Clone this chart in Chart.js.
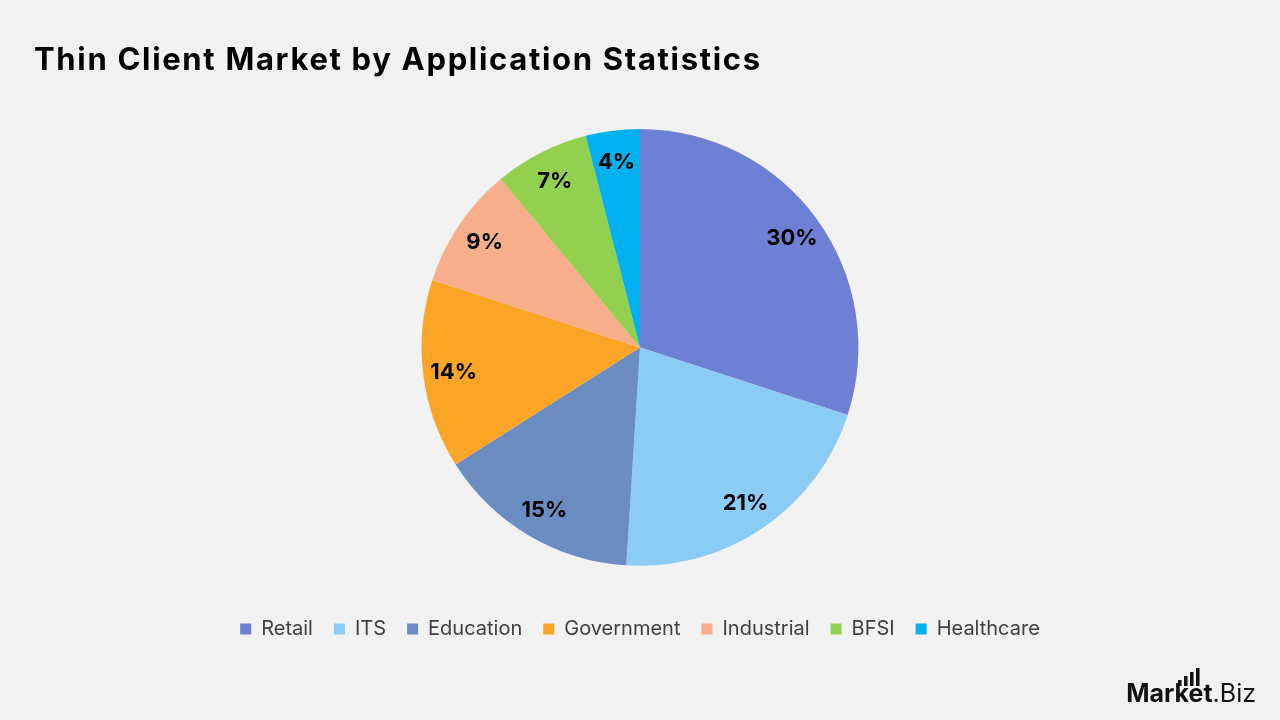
<!DOCTYPE html>
<html>
<head>
<meta charset="utf-8">
<script src="https://cdn.jsdelivr.net/npm/chart.js@4"></script>
<style>
html,body{margin:0;padding:0;background:#F2F2F2;}
#wrap{width:1280px;height:720px;position:relative;}
</style>
</head>
<body>
<div id="wrap"><canvas id="c" width="1280" height="720"></canvas></div>
<script>
const categories = ["Retail","ITS","Education","Government","Industrial","BFSI","Healthcare"];
const shares = [30,21,15,14,9,7,4];
const colors = ["#6E80D3","#8ACCF5","#6C8DC2","#FBA526","#F9AE8B","#92D050","#00B0F0"];
const titleText = "Thin Client Market by Application Statistics";

const FONT = "Inter, 'Open Sans', sans-serif";

const sliceLabels = {
  id:'sliceLabels',
  afterDatasetsDraw(chart){
    const ctx = chart.ctx;
    const meta = chart.getDatasetMeta(0);
    ctx.save();
    ctx.font = "bold 22px " + FONT;
    ctx.fillStyle = "#000";
    ctx.textAlign = "center";
    ctx.textBaseline = "middle";
    meta.data.forEach((arc,i)=>{
      const p = arc.getProps(['x','y','startAngle','endAngle','outerRadius'],true);
      const mid = (p.startAngle+p.endAngle)/2;
      const r = p.outerRadius*0.86;
      ctx.fillText(shares[i]+"%", p.x+Math.cos(mid)*r, p.y+Math.sin(mid)*r+1);
    });
    ctx.restore();
  }
};

const decor = {
  id:'decor',
  beforeDraw(chart){
    const ctx = chart.ctx;
    ctx.save();
    ctx.fillStyle="#F2F2F2";
    ctx.fillRect(0,0,chart.width,chart.height);
    ctx.restore();
  },
  afterDraw(chart){
    const ctx = chart.ctx;
    ctx.save();
    ctx.fillStyle="#000";
    ctx.textBaseline="alphabetic";
    ctx.font = "bold 31px " + FONT;
    const tw = ctx.measureText(titleText).width;
    const ls = Math.max(0,(726 - tw)/(titleText.length-1));
    if ('letterSpacing' in ctx) ctx.letterSpacing = ls.toFixed(2)+"px";
    ctx.fillText(titleText, 34, 70);
    if ('letterSpacing' in ctx) ctx.letterSpacing = "0px";
    // logo
    ctx.font = "bold 25px " + FONT;
    const w1 = ctx.measureText("Market").width;
    ctx.font = "25px " + FONT;
    const w2 = ctx.measureText(".Biz").width;
    const x0 = 1256 - w1 - w2;
    ctx.font = "bold 25px " + FONT;
    ctx.fillStyle="#111";
    ctx.fillText("Market", x0, 702);
    ctx.font = "25px " + FONT;
    ctx.fillText(".Biz", x0+w1, 702);
    // small bars
    const bx = x0 + w1*0.60;
    const hs=[6,10,14,18];
    hs.forEach((h,i)=>{ ctx.fillRect(bx+i*6, 686-h, 3.5, h); });
    ctx.restore();
  }
};

new Chart(document.getElementById('c'),{
  type:'pie',
  data:{labels:categories,datasets:[{data:shares,backgroundColor:colors,borderWidth:0}]},
  options:{
    responsive:false,
    animation:false,
    layout:{padding:{top:129,bottom:71,left:0,right:0}},
    plugins:{
      title:{display:false},
      tooltip:{enabled:false},
      legend:{
        position:'bottom',
        title:{display:true,text:'',font:{size:1},padding:{top:31,bottom:0}},
        labels:{
          boxWidth:11,boxHeight:11,padding:21,
          color:'#404040',
          font:{size:20,family:FONT}
        }
      }
    }
  },
  plugins:[decor,sliceLabels]
});
</script>
</body>
</html>
